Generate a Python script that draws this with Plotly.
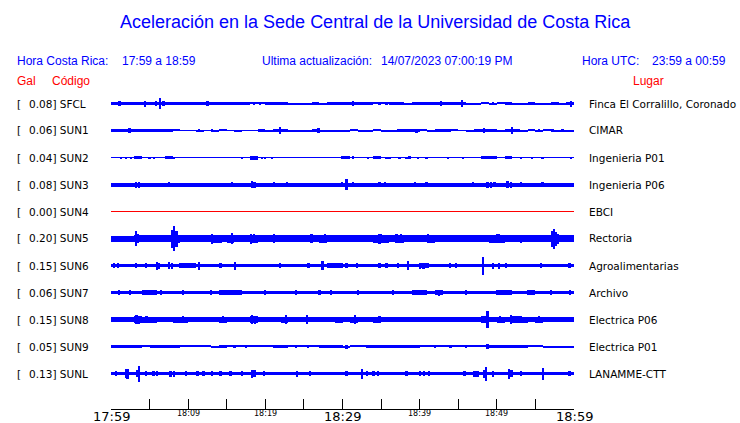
import plotly.graph_objects as go

# ---------------- data ----------------
codes = ["SFCL", "SUN1", "SUN2", "SUN3", "SUN4", "SUN5", "SUN6", "SUN7", "SUN8", "SUN9", "SUNL"]
places = ["Finca El Corralillo, Coronado", "CIMAR", "Ingenieria P01", "Ingenieria P06", "EBCI",
          "Rectoria", "Agroalimentarias", "Archivo", "Electrica P06", "Electrica P01", "LANAMME-CTT"]
gal = [0.08, 0.06, 0.04, 0.08, 0.00, 0.20, 0.15, 0.06, 0.15, 0.05, 0.13]

minute_ticks = [0, 5, 10, 15, 20, 25, 30, 35, 40, 45, 50, 55, 60]
minute_labels = {0: "17:59", 10: "18:09", 20: "18:19", 30: "18:29", 40: "18:39", 50: "18:49", 60: "18:59"}

# per-minute envelope (half amplitude) of each trace
env_SFCL = [1.8, 1.8, 1.8, 1.8, 1.8, 1.8, 1.8, 1.8, 1.8, 1.8, 1.8, 1.8, 1.8, 1.8, 1.8, 1.8, 1.8, 1.5, 0.9, 0.9,
            1.5, 1.8, 1.8, 1.0, 1.0, 1.0, 1.5, 1.0, 1.8, 1.8, 1.8, 1.8, 1.8, 1.2, 0.8, 0.8, 1.2, 1.8, 1.0, 1.6,
            1.6, 1.8, 1.8, 1.8, 1.5, 1.2, 1.0, 1.0, 0.6, 1.0, 0.6, 1.8, 1.0, 1.0, 1.6, 1.0, 1.0, 1.6, 1.0, 1.8]
env_SUN1 = [1.8, 1.8, 1.8, 1.8, 1.5, 1.2, 1.2, 1.2, 0.8, 0.5, 0.5, 1.0, 0.5, 1.0, 0.8, 0.5, 1.0, 0.5, 0.5, 1.5,
            1.0, 1.8, 1.5, 1.0, 1.0, 1.0, 1.2, 1.0, 1.0, 1.0, 1.0, 0.8, 1.0, 1.0, 0.8, 1.0, 1.0, 1.2, 1.5, 1.5,
            0.8, 1.0, 1.5, 1.5, 0.6, 0.5, 1.0, 1.2, 1.8, 1.2, 1.0, 1.5, 1.8, 1.0, 0.6, 1.0, 0.6, 1.0, 1.0, 1.0]
env_SUN2 = [0.5, 0.5, 0.5, 1.7, 0.5, 0.5, 0.5, 1.7, 0.5, 0.5, 0.5, 0.5, 0.5, 0.5, 0.5, 0.5, 0.5, 0.5, 2.0, 0.5,
            0.5, 0.5, 0.5, 0.5, 0.5, 0.5, 0.5, 0.5, 0.5, 0.5, 1.5, 0.5, 0.5, 0.5, 1.5, 0.5, 0.5, 0.5, 0.5, 0.5,
            0.5, 0.5, 0.5, 0.5, 0.5, 0.5, 0.5, 0.5, 1.5, 1.5, 0.5, 1.8, 0.5, 0.5, 0.5, 0.5, 0.5, 0.5, 0.5, 0.5]
env_SUN3 = [2.0] * 60
env_SUN4 = [0.0] * 60
env_SUN5 = [3.0, 3.0, 3.0, 3.5, 3.3, 3.3, 3.3, 3.3, 4.0, 3.3, 3.3, 3.3, 3.3, 4.0, 3.5, 4.0, 3.5, 3.3, 4.0, 3.8,
            3.8, 3.8, 3.3, 3.3, 3.3, 3.8, 3.3, 4.0, 3.3, 3.3, 3.3, 3.5, 3.3, 3.3, 4.0, 4.0, 3.8, 4.0, 3.5, 3.3,
            3.3, 4.0, 3.5, 3.3, 3.3, 3.3, 3.3, 3.5, 3.8, 4.0, 4.0, 3.3, 3.3, 3.5, 3.3, 3.3, 3.3, 5.0, 3.8, 3.3]
env_SUN6 = [1.7, 1.7, 1.7, 1.7, 1.7, 1.7, 1.7, 1.7, 1.7, 2.2, 2.2, 1.7, 1.7, 1.7, 1.7, 1.7, 1.7, 1.7, 1.7, 1.7,
            1.7, 1.7, 1.7, 1.7, 1.7, 1.7, 1.7, 1.7, 2.2, 2.2, 1.7, 1.7, 1.7, 1.7, 1.7, 1.7, 1.7, 1.7, 1.7, 1.7,
            2.2, 1.7, 1.7, 1.7, 1.7, 1.7, 1.7, 1.7, 1.7, 1.7, 1.7, 1.7, 1.7, 1.7, 1.7, 1.7, 1.7, 1.7, 1.7, 1.7]
env_SUN7 = [1.9, 1.9, 1.9, 1.9, 2.2, 2.2, 1.9, 1.9, 1.9, 1.9, 1.9, 1.9, 1.9, 1.9, 2.2, 2.2, 2.2, 1.9, 1.9, 1.9,
            1.9, 1.9, 1.9, 1.9, 1.9, 1.9, 1.9, 1.9, 1.9, 1.9, 1.9, 1.9, 1.9, 1.9, 1.9, 1.9, 1.9, 1.9, 1.9, 2.2,
            2.2, 1.9, 2.2, 1.9, 1.9, 1.9, 1.9, 1.9, 1.9, 1.9, 2.2, 2.2, 1.9, 1.9, 2.2, 1.9, 1.9, 1.9, 1.9, 1.9]
env_SUN8 = [2.5, 2.5, 2.5, 3.3, 3.0, 3.0, 2.5, 2.5, 3.0, 3.0, 2.5, 2.5, 2.5, 2.5, 3.0, 2.5, 2.5, 2.5, 3.5, 2.5,
            2.5, 2.5, 3.0, 2.5, 2.5, 2.5, 2.5, 2.5, 2.5, 3.0, 2.5, 3.0, 2.5, 2.5, 3.0, 2.5, 2.5, 2.5, 2.5, 2.5,
            2.5, 2.5, 2.5, 2.5, 2.5, 2.5, 2.5, 2.5, 3.5, 2.5, 3.0, 2.5, 3.3, 3.0, 2.5, 3.0, 2.5, 2.5, 2.5, 2.5]
env_SUN9 = [1.3, 1.3, 1.3, 1.3, 0.8, 1.3, 1.3, 1.3, 1.3, 0.9, 0.9, 0.7, 0.7, 1.0, 1.3, 0.8, 0.8, 0.8, 0.8, 0.8,
            0.8, 1.3, 1.3, 0.8, 0.8, 0.8, 0.8, 1.2, 1.2, 1.2, 1.0, 0.9, 0.9, 1.3, 1.3, 1.3, 1.3, 1.3, 1.3, 1.3,
            0.8, 0.8, 0.8, 0.8, 0.8, 0.8, 0.8, 0.8, 0.8, 1.3, 1.3, 1.3, 1.3, 1.3, 0.8, 0.8, 1.0, 1.0, 1.0, 1.0]
env_SUNL = [1.7] * 60

# isolated bursts: (minute, half amplitude)
spk_SFCL = [(1.1, 2.8), (4.4, 3.0), (5.8, 2.5), (6.37, 5.3), (6.8, 2.5), (12.5, 2.5), (18.5, 1.5), (19.3, 1.5),
            (31.4, 2.5), (34.8, 1.5), (35.7, 1.5), (42.8, 2.5), (45.5, 3.5), (49.5, 1.5), (59.6, 3.0)]
spk_SUN1 = [(2.4, 2.7), (5.2, 1.8), (5.6, 1.8), (11.4, 1.5), (13.1, 1.5), (21.9, 3.3), (26.9, 2.5),
            (39.6, 2.0), (48.3, 2.2), (52.0, 3.3), (55.5, 1.5), (57.2, 1.5), (58.5, 1.5)]
spk_SUN2 = [(1.3, 1.0), (1.9, 1.0), (2.6, 1.0), (5.0, 1.0), (5.6, 1.0), (8.2, 1.0), (17.0, 1.0), (19.6, 1.0),
            (20.0, 1.0), (20.9, 1.0), (29.9, 1.2), (31.4, 1.5), (33.3, 1.0), (35.7, 1.0), (36.1, 1.0),
            (37.4, 1.0), (38.3, 1.0), (38.7, 1.2), (39.8, 1.0), (40.9, 1.0), (43.7, 1.0), (45.6, 1.0),
            (53.1, 1.0), (54.6, 1.0), (55.9, 1.0), (59.6, 1.0)]
spk_SUN3 = [(3.2, 3.0), (3.6, 3.0), (7.5, 2.8), (15.7, 2.7), (18.3, 3.3), (18.6, 3.0), (21.1, 2.4), (22.8, 2.4),
            (29.9, 2.4), (30.5, 5.3), (31.4, 2.7), (34.8, 2.4), (35.5, 2.4), (39.4, 2.4), (40.9, 2.4),
            (46.9, 2.4), (48.8, 3.0), (49.2, 3.0), (49.7, 2.6), (51.4, 3.3), (51.8, 3.0), (53.1, 2.7), (55.9, 2.4)]
spk_SUN4 = []
spk_SUN5 = [(3.23, 7.5), (3.5, 4.5), (7.9, 9.0), (8.17, 12.5), (8.5, 8.0), (13.1, 5.0), (14.2, 4.0), (15.7, 5.5),
            (18.1, 5.0), (18.5, 4.5), (21.1, 4.3), (26.0, 4.5), (27.7, 4.5), (34.8, 5.0), (35.0, 4.5),
            (37.0, 4.5), (37.6, 4.5), (41.1, 4.5), (41.7, 3.8), (48.6, 3.8), (50.0, 4.5), (50.2, 4.3),
            (53.1, 4.0), (57.2, 8.0), (57.4, 10.0), (57.7, 7.0)]
spk_SUN6 = [(0.4, 2.3), (0.9, 2.3), (3.2, 2.3), (4.5, 2.3), (6.0, 4.0), (6.2, 3.0), (7.5, 3.5), (7.9, 3.0),
            (9.0, 2.5), (9.6, 2.5), (11.4, 4.0), (14.2, 2.3), (16.1, 4.0), (21.9, 2.3), (25.6, 2.3),
            (27.4, 4.5), (28.2, 2.5), (29.0, 2.5), (29.7, 2.3), (30.5, 2.3), (31.9, 2.3), (34.8, 2.3),
            (35.7, 2.5), (37.2, 2.3), (38.5, 4.5), (40.0, 3.0), (40.5, 3.0), (41.0, 2.5), (43.9, 2.3),
            (44.7, 2.3), (48.2, 9.0), (49.5, 3.0), (50.3, 3.0), (51.2, 2.8), (55.7, 2.3), (59.4, 2.3)]
spk_SUN7 = [(1.0, 2.6), (2.5, 2.6), (4.3, 2.8), (5.0, 2.7), (6.5, 2.6), (9.3, 2.6), (13.0, 2.6), (15.0, 2.8),
            (16.5, 2.8), (20.0, 2.6), (24.0, 2.6), (27.0, 2.7), (28.5, 2.8), (32.0, 2.6), (36.5, 2.6),
            (39.3, 2.9), (42.5, 3.0), (46.0, 2.6), (50.0, 2.7), (54.0, 2.8), (57.0, 2.6), (59.5, 2.7)]
spk_SUN8 = [(3.3, 4.5), (3.6, 4.0), (4.6, 3.5), (9.3, 3.5), (14.5, 3.5), (18.3, 4.5), (18.7, 4.0), (22.7, 4.5),
            (25.4, 4.5), (31.6, 4.5), (34.8, 3.5), (48.8, 8.5), (50.4, 3.5), (51.8, 4.5), (53.1, 3.5), (55.5, 3.5)]
spk_SUN9 = [(16.0, 1.5), (17.5, 1.5), (24.0, 1.5), (25.5, 1.5), (30.5, 2.0), (42.0, 1.5), (44.0, 1.5),
            (46.0, 1.5), (48.8, 2.7)]
spk_SUNL = [(0.65, 2.3), (1.9, 4.5), (2.15, 5.0), (3.4, 3.5), (3.66, 8.0), (4.5, 2.3), (5.5, 2.3), (6.0, 2.3),
            (7.7, 3.0), (8.2, 3.0), (9.7, 2.5), (11.2, 2.5), (12.0, 2.5), (13.1, 2.5), (14.2, 2.5), (15.5, 2.5),
            (17.0, 2.5), (18.3, 4.0), (18.6, 3.5), (19.8, 2.5), (24.1, 3.0), (25.8, 2.5), (30.5, 2.5),
            (32.5, 5.0), (33.2, 2.5), (34.0, 2.5), (34.6, 2.5), (38.3, 2.5), (40.0, 2.5), (40.6, 2.5),
            (41.2, 2.5), (45.8, 2.5), (47.1, 3.0), (47.5, 3.0), (48.4, 4.0), (48.6, 7.0), (49.5, 3.0),
            (51.6, 5.0), (51.9, 3.5), (53.1, 2.5), (56.0, 6.0), (59.4, 2.5)]

envelopes = [env_SFCL, env_SUN1, env_SUN2, env_SUN3, env_SUN4, env_SUN5, env_SUN6, env_SUN7, env_SUN8, env_SUN9, env_SUNL]
spikes = [spk_SFCL, spk_SUN1, spk_SUN2, spk_SUN3, spk_SUN4, spk_SUN5, spk_SUN6, spk_SUN7, spk_SUN8, spk_SUN9, spk_SUNL]

# ---------------- layout ----------------
W, H = 740, 423
ML, MR, MT, MB = 111, 166, 90, 14
PW, PH = W - ML - MR, H - MT - MB
ROW0, ROWSTEP = 13.5, 27.0
BLUE, RED = "#0000ff", "#ff0000"
SANS = "Liberation Sans, Arial, sans-serif"
DEJ = "DejaVu Sans, sans-serif"


def px(x):
    return (x - ML) / PW


def py(y):
    return 1 - (y - MT) / PH


fig = go.Figure()
for i, code in enumerate(codes):
    c = ROW0 + ROWSTEP * i
    col = RED if gal[i] == 0 else BLUE
    fig.add_trace(go.Scatter(x=[0, 60], y=[c, c], mode="lines", line=dict(color=col, width=1),
                             hoverinfo="skip", showlegend=False))
    env = envelopes[i]
    xs = [m + 0.5 for m in range(60) if env[m] > 0.5]
    av = [env[m] for m in range(60) if env[m] > 0.5]
    if xs:
        fig.add_trace(go.Bar(x=xs, y=[2 * a for a in av], base=[c - a for a in av], width=1.0,
                             marker=dict(color=col, line=dict(width=0)), showlegend=False, hoverinfo="skip"))
    if spikes[i]:
        fig.add_trace(go.Bar(x=[s[0] for s in spikes[i]], y=[2 * s[1] for s in spikes[i]],
                             base=[c - s[1] for s in spikes[i]], width=0.3,
                             marker=dict(color=col, line=dict(width=0)), showlegend=False, hoverinfo="skip"))

ann = []


def text(x, y, t, size, color, font=SANS, anchor="left"):
    ann.append(dict(x=px(x), y=py(y), xref="paper", yref="paper", text=t, showarrow=False,
                    xanchor=anchor, yanchor="middle", font=dict(size=size, color=color, family=font)))


text(375, 22, "Aceleración en la Sede Central de la Universidad de Costa Rica", 18, BLUE, anchor="center")
text(15, 61, "Hora Costa Rica:", 12, BLUE)
text(119.5, 61, "17:59 a 18:59", 12, BLUE)
text(259.5, 61, "Ultima actualización:", 12, BLUE)
text(379, 61, "14/07/2023 07:00:19 PM", 12, BLUE)
text(580, 61, "Hora UTC:", 12, BLUE)
text(649.5, 61, "23:59 a 00:59", 12, BLUE)
text(15, 81, "Gal", 12, RED)
text(50, 81, "Código", 12, RED)
text(630.5, 81, "Lugar", 12, RED)

for i, code in enumerate(codes):
    yy = MT + ROW0 + ROWSTEP * i
    text(15, yy, "[", 10.5, "black", DEJ)
    text(27.3, yy, f"{gal[i]:.2f}] {code}", 10.5, "black", DEJ)
    text(586.7, yy, places[i], 10.5, "black", DEJ)

for m, lab in minute_labels.items():
    big = m in (0, 30, 60)
    ann.append(dict(x=m, y=py(416.0 if big else 413.5), xref="x", yref="paper", text=lab, showarrow=False,
                    xanchor="center", yanchor="middle",
                    font=dict(size=13 if big else 8, color="black", family=DEJ)))

fig.update_layout(
    width=W, height=H, margin=dict(l=ML, r=MR, t=MT, b=MB),
    paper_bgcolor="white", plot_bgcolor="white", barmode="overlay", bargap=0,
    showlegend=False, annotations=ann,
    xaxis=dict(range=[0, 60], showgrid=False, zeroline=False, showline=True, linecolor="black", linewidth=1,
               ticks="inside", ticklen=10, tickcolor="black", tickvals=minute_ticks, showticklabels=False,
               fixedrange=True),
    yaxis=dict(range=[PH, 0], showgrid=False, zeroline=False, showline=False, showticklabels=False,
               ticks="", fixedrange=True),
)

fig.write_html("out.html", config={"displayModeBar": False},
               post_script="document.body.style.margin='0px';document.body.style.overflow='hidden';")
